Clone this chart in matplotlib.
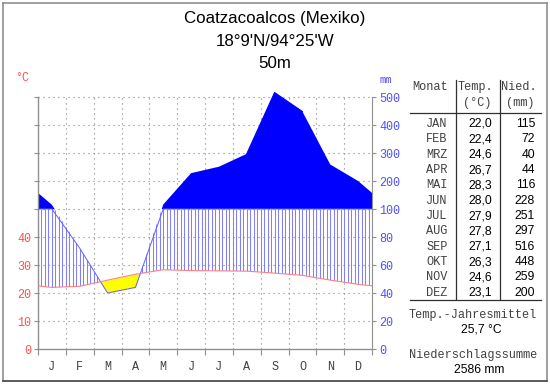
import numpy as np
import matplotlib.pyplot as plt
from matplotlib.path import Path
from matplotlib.lines import Line2D

# Klimadaten Coatzacoalcos
station = 'Coatzacoalcos (Mexiko)'
coords = "18°9'N/94°25'W"
elevation = '50m'
month_letters = ['J', 'F', 'M', 'A', 'M', 'J', 'J', 'A', 'S', 'O', 'N', 'D']
month_names = ['JAN', 'FEB', 'MRZ', 'APR', 'MAI', 'JUN', 'JUL', 'AUG', 'SEP', 'OKT', 'NOV', 'DEZ']
temps = [22.0, 22.4, 24.6, 26.7, 28.3, 28.0, 27.9, 27.8, 27.1, 26.3, 24.6, 23.1]
precip = [115, 72, 40, 44, 116, 228, 251, 297, 516, 448, 259, 200]
temp_ticks = [0, 10, 20, 30, 40]
precip_ticks = [0, 20, 40, 60, 80, 100, 200, 300, 400, 500]
mean_temp = '25,7 °C'
precip_sum = '2586 mm'

RED = '#ff5050'
BLUE = '#5050ff'
MONO = 'Liberation Mono'
SANS = 'Liberation Sans'


def precip_to_axis(p):
    # 20 mm = 10 °C bis 100 mm, darüber 100 mm = 10 °C
    p = np.asarray(p, float)
    return np.where(p <= 100, p / 2, 50 + (p - 100) / 10)


fig = plt.figure(figsize=(5.5, 3.84), dpi=100)
W, H = 550, 384
# Plotbereich in Pixeln: x 38..372, y(0)=349, 2.8 px pro °C
ytop = 93
ax = fig.add_axes([38 / W, 35 / H, 334 / W, ytop * 2.8 / H])
ax.set_xlim(0, 12)
ax.set_ylim(0, ytop)

# Jahreswechsel: Dezember vor Januar und Januar nach Dezember
x = np.concatenate([[-0.5], np.arange(12) + 0.5, [12.5]])
t = np.array([temps[-1]] + temps + [temps[0]])
p = precip_to_axis([precip[-1]] + precip + [precip[0]])

# Gitter
ax.hlines(range(10, 100, 10), 0, 12, colors='#808080', linestyles=(0, (1, 3.5)), lw=0.8, zorder=0)
ax.vlines(range(1, 12), 0, 90, colors='#808080', linestyles=(0, (1, 3.5)), lw=0.8, zorder=0)

# Niederschlag > 100 mm
ax.fill_between(x, 50, p, where=p >= 50, interpolate=True, color='#0000ff', lw=0, zorder=2)
ax.plot(x[8:11], p[8:11], color='#0000ff', lw=0.8, zorder=2, clip_on=False)

# humide Zeit: senkrechte Schraffur
humid = ax.fill_between(x, t, p, where=p >= t, interpolate=True, facecolor='none', edgecolor='none')
clip = Path.make_compound_path(*humid.get_paths())
vl = ax.vlines(np.arange(0, 97) / 8, 0, 50, colors='#8080ff', lw=0.75, zorder=1)
vl.set_clip_path(clip, ax.transData)

# aride Zeit
ax.fill_between(x, p, t, where=t > p, interpolate=True, color='#ffff00', lw=0, zorder=1)

ax.plot(x, np.minimum(p, 50), color='#6060ff', lw=0.7, zorder=3)
ax.plot(x, t, color='#ff8080', lw=0.8, zorder=3)

# Achsen
for s in ['top', 'right']:
    ax.spines[s].set_visible(False)
ax.spines['left'].set_bounds(0, 90)
for s in ['left', 'bottom']:
    ax.spines[s].set_color('#909090')
    ax.spines[s].set_linewidth(1.0)

ax.set_yticks(range(0, 100, 10))
ax.set_yticklabels([str(v) if v in temp_ticks else '' for v in range(0, 100, 10)])
ax.tick_params(axis='y', colors='#909090', labelcolor=RED, length=3, pad=2, labelsize=8.5)
for lab in ax.get_yticklabels():
    lab.set_fontfamily(MONO)

ax.set_xticks(range(0, 13))
ax.set_xticklabels([])
ax.tick_params(axis='x', which='major', colors='#909090', length=4, direction='out')
ax.set_xticks(np.arange(12) + 0.5, minor=True)
ax.set_xticklabels(month_letters, minor=True, fontfamily=MONO, fontsize=8.5, color='#404040')
ax.tick_params(axis='x', which='minor', length=0, pad=9)

ax2 = ax.twinx()
ax2.set_ylim(0, ytop)
for s in ['top', 'left', 'bottom']:
    ax2.spines[s].set_visible(False)
ax2.spines['right'].set_bounds(0, 90)
ax2.spines['right'].set_color('#909090')
ax2.set_yticks(precip_to_axis(precip_ticks))
ax2.set_yticklabels([str(v) for v in precip_ticks], fontfamily=MONO)
ax2.tick_params(axis='y', colors='#909090', labelcolor=BLUE, length=3, pad=2, labelsize=8.5)

fig.text(22 / W, 1 - 78 / H, '°C', color=RED, fontfamily=MONO, fontsize=8.5, ha='center', va='center')
fig.text(386 / W, 1 - 80 / H, 'mm', color=BLUE, fontfamily=MONO, fontsize=7.5, ha='center', va='center')

# Titel
for txt, yy in [(station, 18), (coords, 41), (elevation, 63)]:
    fig.text(275 / W, 1 - yy / H, txt, fontfamily=SANS, fontsize=12.2, ha='center', va='center')

# Tabelle
def px(xp, yp):
    return xp / W, 1 - yp / H

fig.text(*px(430, 87), 'Monat', fontfamily=MONO, fontsize=8.6, color='#404040', ha='center', va='center')
fig.text(*px(475, 87), 'Temp.', fontfamily=MONO, fontsize=8.6, color='#404040', ha='center', va='center')
fig.text(*px(477, 103), '(°C)', fontfamily=MONO, fontsize=8.6, color='#404040', ha='center', va='center')
fig.text(*px(519, 87), 'Nied.', fontfamily=MONO, fontsize=8.6, color='#404040', ha='center', va='center')
fig.text(*px(520, 103), '(mm)', fontfamily=MONO, fontsize=8.6, color='#404040', ha='center', va='center')

row_h = 15.35
for i, (name, tv, pv) in enumerate(zip(month_names, temps, precip)):
    yy = 124 + i * row_h
    fig.text(*px(437, yy), name, fontfamily=MONO, fontsize=8.6, color='#404040', ha='center', va='center')
    fig.text(*px(492, yy), f'{tv:.1f}'.replace('.', ','), fontfamily=SANS, fontsize=8.7, ha='right', va='center')
    fig.text(*px(535, yy), str(pv), fontfamily=SANS, fontsize=8.7, ha='right', va='center')

lines = [((456, 456), (80, 299)), ((500, 500), (80, 299)),
         ((410, 541), (113, 113)), ((410, 541), (300, 300))]
for xs, ys in lines:
    fig.add_artist(Line2D([v / W for v in xs], [1 - v / H for v in ys], color='#303030', lw=0.9))

fig.text(*px(473, 315), 'Temp.-Jahresmittel', fontfamily=MONO, fontsize=8.6, color='#404040', ha='center', va='center')
fig.text(*px(481, 330), mean_temp, fontfamily=SANS, fontsize=8.7, ha='center', va='center')
fig.text(*px(473, 355), 'Niederschlagssumme', fontfamily=MONO, fontsize=8.6, color='#404040', ha='center', va='center')
fig.text(*px(479, 370), precip_sum, fontfamily=SANS, fontsize=8.7, ha='center', va='center')

# Rahmen
frame = [((3, 547), (2.5, 2.5), '#909090'), ((3, 3), (2.5, 381), '#909090'),
         ((547, 547), (2.5, 381), '#909090'), ((3, 547), (381, 381), '#404040')]
for xs, ys, c in frame:
    fig.add_artist(Line2D([v / W for v in xs], [1 - v / H for v in ys], color=c, lw=1.2))

fig.savefig('out.png', dpi=100)
